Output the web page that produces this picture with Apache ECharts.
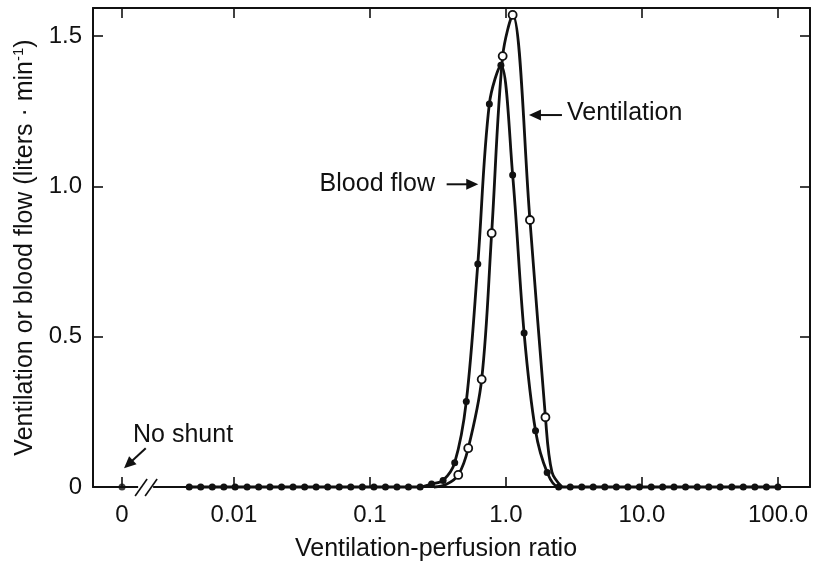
<!DOCTYPE html>
<html><head><meta charset="utf-8">
<script src="https://cdn.jsdelivr.net/npm/echarts@6/dist/echarts.min.js"></script>
<style>html,body{margin:0;padding:0;background:#fff}#c{width:816px;height:564px}</style>
</head><body><div id="c"></div>
<script>
// ---- data ----
// V/Q compartments (log-spaced)
const vaQRatio = [0.00469,0.0057,0.00693,0.00843,0.0102,0.0125,0.0152,0.0184,0.0224,0.0272,
  0.0331,0.0402,0.0489,0.0595,0.0723,0.0879,0.107,0.13,0.158,0.192,
  0.234,0.284,0.345,0.42,0.511,0.621,0.755,0.918,1.12,1.36,
  1.65,2.01,2.44,2.97,3.61,4.38,5.33,6.48,7.88,9.58,
  11.7,14.2,17.2,20.9,25.5,31,37.6,45.8,55.6,67.6,82.2,100];
// blood flow (filled dots), liters/min
const bloodFlow = [0,0,0,0,0,0,0,0,0,0,
  0,0,0,0,0,0,0,0,0,0,
  0,0.01,0.022,0.081,0.284,0.742,1.274,1.403,1.038,0.512,
  0.187,0.048,0,0,0,0,0,0,0,0,
  0,0,0,0,0,0,0,0,0,0,0,0];
// ventilation (open circles), liters/min
const ventRatio   = [0.2955,0.362,0.446,0.528,0.663,0.785,0.946,1.12,1.501,1.951,2.179,2.581];
const ventilation = [0,0.008,0.04,0.129,0.358,0.844,1.433,1.57,0.888,0.232,0.05,0];
const ventMarked  = [false,false,true,true,true,true,true,true,true,true,false,false];
// shunt compartment (V/Q = 0)
const shuntRatio = [0];
const shuntFlow = [0];
// tick labels
const xTickValues = [0.01,0.1,1,10,100];
const xTickLabels = ['0.01','0.1','1.0','10.0','100.0'];
const shuntTickValues = [0];
const shuntTickLabels = ['0'];
const yTickValues = [0,0.5,1.0,1.5];
const yTickLabels = ['0','0.5','1.0','1.5'];

// ---- chart ----
const FONT = 'Liberation Sans';
const INK = '#111';
const chart = echarts.init(document.getElementById('c'), null, {renderer:'canvas'});

function pick(vals, labels, v, isLog){
  for (let i=0;i<vals.length;i++){
    const a = isLog ? Math.log10(vals[i]) : vals[i];
    const b = isLog ? Math.log10(v) : v;
    if (Math.abs(a-b) < 1e-6) return labels[i];
  }
  return '';
}

const logMin = 0.00092, logMax = 172;
const shMin = -1, shMax = 23.7;
const yMax = 1.593;

const tickStyle = {color: INK, width: 1.6};
const lineStyle = {color: INK, width: 2};

const option = {
  animation: false,
  backgroundColor: '#fff',
  textStyle: {fontFamily: FONT},
  grid: {left: 93, right: 6, top: 8, bottom: 77, containLabel: false, outerBoundsMode: 'none'},
  xAxis: [
    {type:'log', logBase:10, min:logMin, max:logMax, position:'bottom',
     axisLine:{show:true, onZero:false, lineStyle:lineStyle},
     axisTick:{show:true, inside:true, length:10, customValues:xTickValues, lineStyle:tickStyle},
     axisLabel:{show:true, customValues:xTickValues, fontSize:24, color:INK, fontFamily:FONT, margin:16,
       formatter:v=>pick(xTickValues,xTickLabels,v,true)},
     splitLine:{show:false}, minorTick:{show:false},
     name:'Ventilation-perfusion ratio', nameLocation:'middle', nameGap:50,
     nameTextStyle:{fontSize:25, color:INK, fontFamily:FONT, padding:[0,31,0,0]}},
    {type:'value', min:shMin, max:shMax, position:'bottom',
     axisLine:{show:false, onZero:false},
     axisTick:{show:true, inside:true, length:10, customValues:shuntTickValues, lineStyle:tickStyle},
     axisLabel:{show:true, customValues:shuntTickValues, fontSize:24, color:INK, fontFamily:FONT, margin:16,
       formatter:v=>pick(shuntTickValues,shuntTickLabels,v,false)},
     splitLine:{show:false}},
    {type:'log', logBase:10, min:logMin, max:logMax, position:'top',
     axisLine:{show:true, onZero:false, lineStyle:lineStyle},
     axisTick:{show:true, inside:true, length:10, customValues:xTickValues, lineStyle:tickStyle},
     axisLabel:{show:false}, splitLine:{show:false}},
    {type:'value', min:shMin, max:shMax, position:'top',
     axisLine:{show:false, onZero:false},
     axisTick:{show:true, inside:true, length:10, customValues:shuntTickValues, lineStyle:tickStyle},
     axisLabel:{show:false}, splitLine:{show:false}}
  ],
  yAxis: [
    {type:'value', min:0, max:yMax, position:'left',
     axisLine:{show:true, onZero:false, lineStyle:lineStyle},
     axisTick:{show:true, inside:true, length:10, customValues:yTickValues.slice(1), lineStyle:tickStyle},
     axisLabel:{show:true, customValues:yTickValues, fontSize:24, color:INK, fontFamily:FONT, margin:11,
       formatter:v=>pick(yTickValues,yTickLabels,v,false)},
     splitLine:{show:false},
     name:'Ventilation or blood flow (liters · min{sup|-1})', nameLocation:'middle', nameGap:42,
     nameTextStyle:{fontSize:25, color:INK, fontFamily:FONT,
       rich:{sup:{fontSize:15, color:INK, fontFamily:FONT, verticalAlign:'top', padding:[0,0,12,0]}}}},
    {type:'value', min:0, max:yMax, position:'right',
     axisLine:{show:true, onZero:false, lineStyle:lineStyle},
     axisTick:{show:true, inside:true, length:10, customValues:yTickValues.slice(1), lineStyle:tickStyle},
     axisLabel:{show:false}, splitLine:{show:false}}
  ],
  series: [
    {name:'Blood flow', type:'line', xAxisIndex:0, yAxisIndex:0,
     data: vaQRatio.map((x,i)=>[x, bloodFlow[i]]),
     smooth:0.35, clip:false, showAllSymbol:true, symbol:'circle', symbolSize:7,
     itemStyle:{color:INK}, lineStyle:{color:INK, width:2.8}, z:3},
    {name:'Ventilation', type:'line', xAxisIndex:0, yAxisIndex:0,
     data: ventRatio.map((x,i)=>({value:[x, ventilation[i]], symbol: ventMarked[i] ? 'circle' : 'none'})),
     smooth:0.35, clip:false, showAllSymbol:true, symbol:'circle', symbolSize:8,
     itemStyle:{color:'#fff', borderColor:INK, borderWidth:1.8}, lineStyle:{color:INK, width:2.8}, z:4},
    {name:'Shunt', type:'scatter', xAxisIndex:1, yAxisIndex:0,
     data: shuntRatio.map((x,i)=>[x, shuntFlow[i]]),
     symbol:'circle', symbolSize:7, itemStyle:{color:INK}, clip:false, z:3}
  ]
};
chart.setOption(option);

// ---- annotations (anchored to data coordinates) ----
function px(xAxisIndex, x, y){ return chart.convertToPixel({xAxisIndex:xAxisIndex, yAxisIndex:0}, [x, y]); }
function arrow(p1, p2){
  const dx = p2[0]-p1[0], dy = p2[1]-p1[1];
  const L = Math.hypot(dx,dy), ux = dx/L, uy = dy/L;
  const hl = 12, hw = 5.5;
  const bx = p2[0]-ux*hl, by = p2[1]-uy*hl;
  return [
    {type:'line', shape:{x1:p1[0], y1:p1[1], x2:bx+ux*2, y2:by+uy*2}, style:{stroke:INK, lineWidth:2}, z:10},
    {type:'polygon', shape:{points:[[p2[0],p2[1]],[bx-uy*hw, by+ux*hw],[bx+uy*hw, by-ux*hw]]}, style:{fill:INK}, z:10}
  ];
}
const g = [];
// Ventilation label
g.push(...arrow(px(0,2.58,1.237), px(0,1.476,1.237)));
let p = px(0,2.81,1.244);
g.push({type:'text', x:p[0], y:p[1], style:{text:'Ventilation', fontSize:25, fontFamily:FONT, fill:INK, align:'left', verticalAlign:'middle'}, z:10});
// Blood flow label
g.push(...arrow(px(0,0.3664,1.0067), px(0,0.6255,1.0067)));
p = px(0,0.3006,1.0067);
g.push({type:'text', x:p[0], y:p[1], style:{text:'Blood flow', fontSize:25, fontFamily:FONT, fill:INK, align:'right', verticalAlign:'middle'}, z:10});
// No shunt label
g.push(...arrow(px(1,0.817,0.129), px(1,0.069,0.062)));
p = px(1,0.379,0.173);
g.push({type:'text', x:p[0], y:p[1], style:{text:'No shunt', fontSize:25, fontFamily:FONT, fill:INK, align:'left', verticalAlign:'middle'}, z:10});
// axis break mark
const b = px(1,0.83,0);
g.push({type:'rect', shape:{x:b[0]-8, y:b[1]-3, width:15, height:6}, style:{fill:'#fff'}, z:9});
g.push({type:'line', shape:{x1:b[0]-11, y1:b[1]+9, x2:b[0]+1, y2:b[1]-8}, style:{stroke:INK, lineWidth:1.6}, z:10});
g.push({type:'line', shape:{x1:b[0]-1, y1:b[1]+9, x2:b[0]+11, y2:b[1]-8}, style:{stroke:INK, lineWidth:1.6}, z:10});
chart.setOption({graphic: g});
</script>
</body></html>
